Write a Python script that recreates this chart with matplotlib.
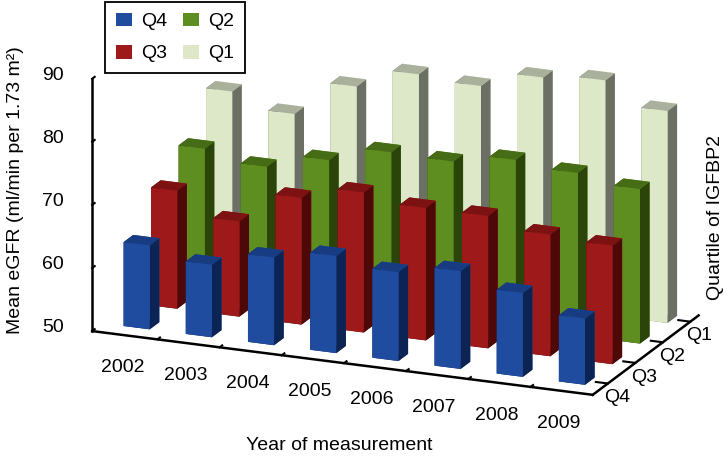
import numpy as np
import matplotlib.pyplot as plt
from matplotlib.patches import Patch

plt.rcParams['font.family'] = ['Liberation Sans', 'DejaVu Sans']

# === data ===
years = ["2002", "2003", "2004", "2005", "2006", "2007", "2008", "2009"]
quartiles = ["Q4", "Q3", "Q2", "Q1"]          # front row to back row

q4 = [63.3, 61.5, 63.9, 65.4, 64.1, 65.5, 63.3, 60.5]
q3 = [68.7, 65.1, 70.1, 72.2, 71.0, 71.0, 69.3, 68.8]
q2 = [72.1, 70.5, 72.8, 75.3, 75.1, 76.6, 75.8, 74.5]
q1 = [77.9, 75.6, 81.2, 84.4, 83.8, 86.4, 87.2, 83.6]
series = [q4, q3, q2, q1]

z_ticks = [50, 60, 70, 80, 90]

# face colours: (front, top, side)
styles = {
    "Q4": ("#1f4c9f", "#173c82", "#0c2454"),
    "Q3": ("#9e1a1a", "#7c1212", "#4e0808"),
    "Q2": ("#5f8e20", "#466c15", "#2a440a"),
    "Q1": ("#dde8c9", "#a9b09c", "#6c7064"),
}

bar_w = 0.42
bar_d = 0.35
z0 = z_ticks[0]
y_lo, y_hi = -0.55, len(quartiles) - 0.7

xs, ys, dz, face_cols = [], [], [], []
for row, (q, vals) in enumerate(zip(quartiles, series)):
    front, top, side = styles[q]
    for i, v in enumerate(vals):
        xs.append(i - bar_w / 2)
        ys.append(row - bar_d / 2)
        dz.append(v - z0)
        # bottom, top, front(-y), back(+y), left(-x), right(+x)
        face_cols += [side, top, front, front, side, side]

fig = plt.figure(figsize=(7.28, 4.59), dpi=100)
ax = fig.add_axes([-0.028, -0.097, 1.12, 1.3], projection='3d', proj_type='ortho')

ax.bar3d(xs, ys, np.full(len(xs), z0), bar_w, bar_d, dz,
         color=face_cols, shade=False, edgecolor='none')

ax.view_init(elev=18, azim=-67.6)
ax.set_box_aspect((1, 0.513, 0.49), zoom=1.08)

ax.set_xlim(-0.55, len(years) - 0.5)
ax.set_ylim(y_lo, y_hi)
ax.set_zlim(z0, z_ticks[-1])

# tick marks between year categories, labels at the centres
ax.set_xticks(np.arange(len(years) - 1) + 0.5)
ax.tick_params(axis='x', labelbottom=False)
for i, yr in enumerate(years):
    ax.text(i - 0.05, y_lo, 44.8, yr, ha='center', va='center', fontsize=14)

ax.set_yticks(range(len(quartiles)))
ax.set_yticklabels(quartiles, fontsize=14)
ax.tick_params(axis='y', pad=-4)

ax.set_zticks(z_ticks)
ax.set_zticklabels([""] * len(z_ticks))
ax.zaxis.set_ticks_position('lower')
ax.zaxis.set_label_position('lower')
for t in z_ticks:
    ax.text(-1.0, y_lo, t, str(t), ha='right', va='center', fontsize=14)

for axis in (ax.xaxis, ax.yaxis, ax.zaxis):
    axis.set_pane_color((1, 1, 1, 0))
    axis.pane.set_edgecolor((1, 1, 1, 0))
    axis.line.set_color('black')
    axis.line.set_linewidth(1.8)
    axis.label.set_visible(False)
    axis._axinfo['tick']['inward_factor'] = 0.0
    axis._axinfo['tick']['outward_factor'] = 0.3
    axis._axinfo['tick']['linewidth'] = {True: 1.5, False: 1.0}
ax.grid(False)
ax.tick_params(axis='both', colors='black')

fig.text(16 / 728, 1 - 190 / 459, "Mean eGFR (ml/min per 1.73 m\u00b2)",
         rotation=90, ha='center', va='center', fontsize=14)
fig.text(339 / 728, 1 - 446 / 459, "Year of measurement",
         ha='center', va='center', fontsize=14)
fig.text(716 / 728, 1 - 217 / 459, "Quartile of IGFBP2",
         rotation=90, ha='center', va='center', fontsize=14)

handles = [Patch(facecolor=styles[q][0], edgecolor='none') for q in quartiles]
leg = fig.legend(handles, quartiles, ncol=2, loc='upper left',
                 bbox_to_anchor=(105 / 728, 1 - 2 / 459), borderaxespad=0,
                 fontsize=14, frameon=True, fancybox=False, edgecolor='black',
                 framealpha=1, handlelength=0.85, handleheight=0.7,
                 columnspacing=0.8, handletextpad=0.45, borderpad=0.55,
                 labelspacing=0.75)
leg.get_frame().set_linewidth(1.3)

plt.savefig("out.png", dpi=100)
